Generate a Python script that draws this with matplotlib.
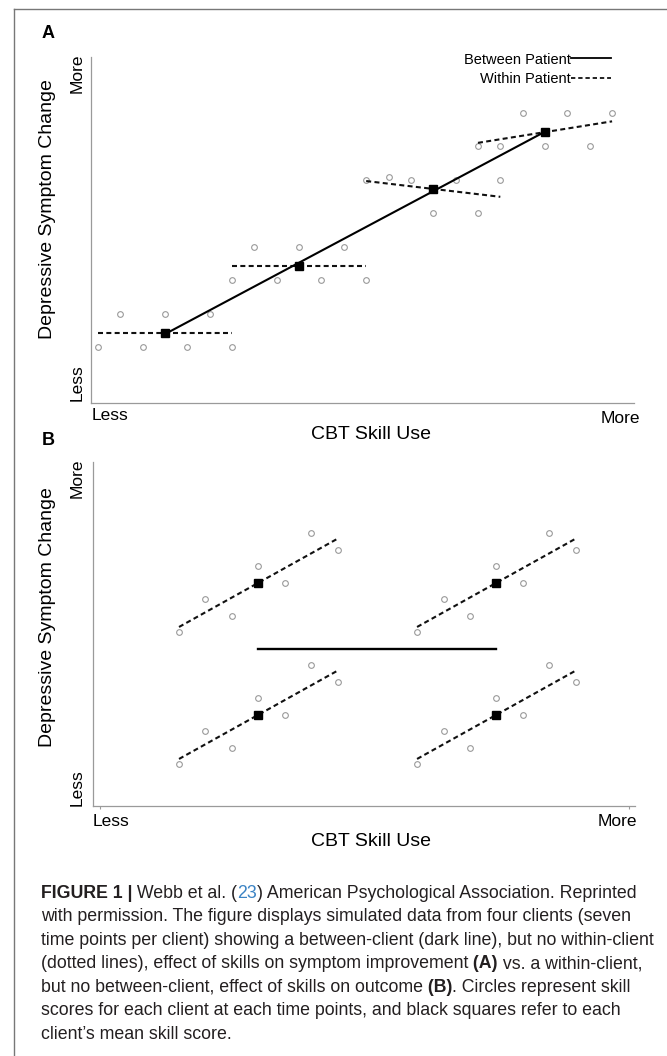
import numpy as np
import matplotlib
matplotlib.use("Agg")
import matplotlib.pyplot as plt
from matplotlib.lines import Line2D

plt.rcParams["font.family"] = ["Liberation Sans", "DejaVu Sans"]

# ── Data ──────────────────────────────────────────────────────────────────────
# Panel A: four clients, seven time points each
A_SKILL = [
    [0, 1, 2, 3, 4, 5, 6],
    [6, 7, 8, 9, 10, 11, 12],
    [12, 13, 14, 15, 16, 17, 18],
    [17, 18, 19, 20, 21, 22, 23],
]
A_SYMPTOM = [
    [0, 1, 0, 1, 0, 1, 0],
    [2, 3, 2, 3, 2, 3, 2],
    [5, 5.1, 5, 4, 5, 4, 5],
    [6, 6, 7, 6, 7, 6, 7],
]

# Panel B: four clients, seven time points each
B_SKILL = [
    [0, 1, 2, 3, 4, 5, 6],
    [9, 10, 11, 12, 13, 14, 15],
    [0, 1, 2, 3, 4, 5, 6],
    [9, 10, 11, 12, 13, 14, 15],
]
B_SYMPTOM = [
    [0, 2, 1, 4, 3, 6, 5],
    [0, 2, 1, 4, 3, 6, 5],
    [-8, -6, -7, -4, -5, -2, -3],
    [-8, -6, -7, -4, -5, -2, -3],
]

AXIS_ENDS = ["Less", "More"]
X_LABEL = "CBT Skill Use"
Y_LABEL = "Depressive Symptom Change"
LEGEND_LABELS = ["Between Patient", "Within Patient"]

# ── Style ─────────────────────────────────────────────────────────────────────
W, H = 667, 1056
SPINE = "#9a9a9a"
CIRC = "#9a9a9a"
INK = "#111111"
DASH = (0, (2.4, 1.6))


def fx(px):
    return px / W


def fy(py):
    return 1 - py / H


fig = plt.figure(figsize=(W / 100, H / 100), dpi=100)


def draw_panel(ax, skill, symptom, lw_between):
    for xs, ys in zip(skill, symptom):
        xs = np.asarray(xs, float)
        ys = np.asarray(ys, float)
        ax.plot(xs, ys, "o", ms=4.1, mfc="none", mec=CIRC, mew=0.8, zorder=2)
        k, b = np.polyfit(xs, ys, 1)
        ends = np.array([xs.min(), xs.max()])
        ax.plot(ends, k * ends + b, color=INK, lw=1.5, ls=DASH, zorder=3)
    mx = np.array([np.mean(x) for x in skill])
    my = np.array([np.mean(y) for y in symptom])
    k, b = np.polyfit(mx, my, 1)
    ends = np.array([mx.min(), mx.max()])
    ax.plot(ends, k * ends + b, color="black", lw=lw_between, zorder=4)
    ax.plot(mx, my, "s", ms=5.8, color="black", zorder=5)
    for s in ("top", "right"):
        ax.spines[s].set_visible(False)
    for s in ("left", "bottom"):
        ax.spines[s].set_color(SPINE)
        ax.spines[s].set_linewidth(0.9)
    ax.set_yticks([])


# ── Panel A ───────────────────────────────────────────────────────────────────
axA = fig.add_axes([fx(91), fy(403), fx(634) - fx(91), fy(57) - fy(403)])
draw_panel(axA, A_SKILL, A_SYMPTOM, 1.5)
axA.set_xticks([])
axA.set_xlim(-0.31, 23.98)
axA.set_ylim(-1.675, 8.675)

handles = [Line2D([], [], color="black", lw=1.3),
           Line2D([], [], color=INK, lw=1.3, ls=DASH)]
axA.legend(handles, LEGEND_LABELS, markerfirst=False, frameon=False,
           loc="upper right", bbox_to_anchor=(0.957, 1.013), borderpad=0,
           borderaxespad=0, handlelength=2.75, handletextpad=0.0,
           labelspacing=0.4, fontsize=10.5)

# ── Panel B ───────────────────────────────────────────────────────────────────
axB = fig.add_axes([fx(92.8), fy(806), fx(635) - fx(92.8), fy(461.7) - fy(806)])
draw_panel(axB, B_SKILL, B_SYMPTOM, 1.7)
axB.set_xlim(-3.26, 17.24)
axB.set_ylim(-10.53, 10.34)
axB.set_xticks([-3, 17])
axB.set_xticklabels([])
axB.tick_params(axis="x", length=2, color=SPINE, width=0.8)

# ── Axis texts ────────────────────────────────────────────────────────────────
for (lab, ylab_c, lx, mx, less_y, more_y, tick_y, xl_y, ylab_more, ylab_less) in [
    ("A", 209, 110, 620, 416, 418.5, 33, 435, 73, 383),
    ("B", 617, 110.6, 617, 821.7, 821.7, 440.7, 841.7, 478, 788),
]:
    fig.text(fx(48), fy(tick_y), lab, fontsize=13, fontweight="bold",
             ha="center", va="center")
    fig.text(fx(47.7), fy(ylab_c), Y_LABEL, fontsize=14, rotation=90,
             ha="center", va="center")
    fig.text(fx(77), fy(ylab_more), AXIS_ENDS[1], fontsize=12.5, rotation=90,
             ha="center", va="center")
    fig.text(fx(77), fy(ylab_less), AXIS_ENDS[0], fontsize=12.5, rotation=90,
             ha="center", va="center")
    fig.text(fx(lx), fy(less_y), AXIS_ENDS[0], fontsize=12.5,
             ha="center", va="center")
    fig.text(fx(mx), fy(more_y), AXIS_ENDS[1], fontsize=12.5,
             ha="center", va="center")
    fig.text(fx(371), fy(xl_y), X_LABEL, fontsize=14, ha="center", va="center")

# ── Frame ─────────────────────────────────────────────────────────────────────
fig.add_artist(Line2D([fx(14), fx(14)], [fy(9), 0], color="#777777", lw=1.0,
                      transform=fig.transFigure))
fig.add_artist(Line2D([fx(14), 1], [fy(9), fy(9)], color="#777777", lw=1.0,
                      transform=fig.transFigure))

# ── Caption ───────────────────────────────────────────────────────────────────
cap = fig.add_axes([0, 0, 1, 1])
cap.axis("off")
CAP_COL = "#231f20"
BLUE = "#3b83c4"
CAP_LINES = [
    [("FIGURE 1 |", "bold", CAP_COL), (" Webb et al. (", "normal", CAP_COL),
     ("23", "normal", BLUE),
     (") American Psychological Association. Reprinted", "normal", CAP_COL)],
    [("with permission. The figure displays simulated data from four clients (seven",
      "normal", CAP_COL)],
    [("time points per client) showing a between-client (dark line), but no within-client",
      "normal", CAP_COL)],
    [("(dotted lines), effect of skills on symptom improvement", "normal", CAP_COL),
     (" (A)", "bold", CAP_COL), (" vs. a within-client,", "normal", CAP_COL)],
    [("but no between-client, effect of skills on outcome", "normal", CAP_COL),
     (" (B)", "bold", CAP_COL), (". Circles represent skill", "normal", CAP_COL)],
    [("scores for each client at each time points, and black squares refer to each",
      "normal", CAP_COL)],
    [("client\u2019s mean skill score.", "normal", CAP_COL)],
]
CAP_Y = [891.7, 915.2, 938.8, 962.3, 985.9, 1009.4, 1033.0]
CAP_FS = 12.8
for parts, yc in zip(CAP_LINES, CAP_Y):
    s, w, c = parts[0]
    t = cap.text(fx(41), fy(yc + 6), s, fontsize=CAP_FS, fontweight=w, color=c,
                 ha="left", va="baseline", transform=cap.transAxes)
    for s, w, c in parts[1:]:
        t = cap.annotate(s, xy=(1, 0), xycoords=t, fontsize=CAP_FS,
                         fontweight=w, color=c, ha="left", va="bottom")

fig.savefig("out.png", dpi=100, facecolor="white")
